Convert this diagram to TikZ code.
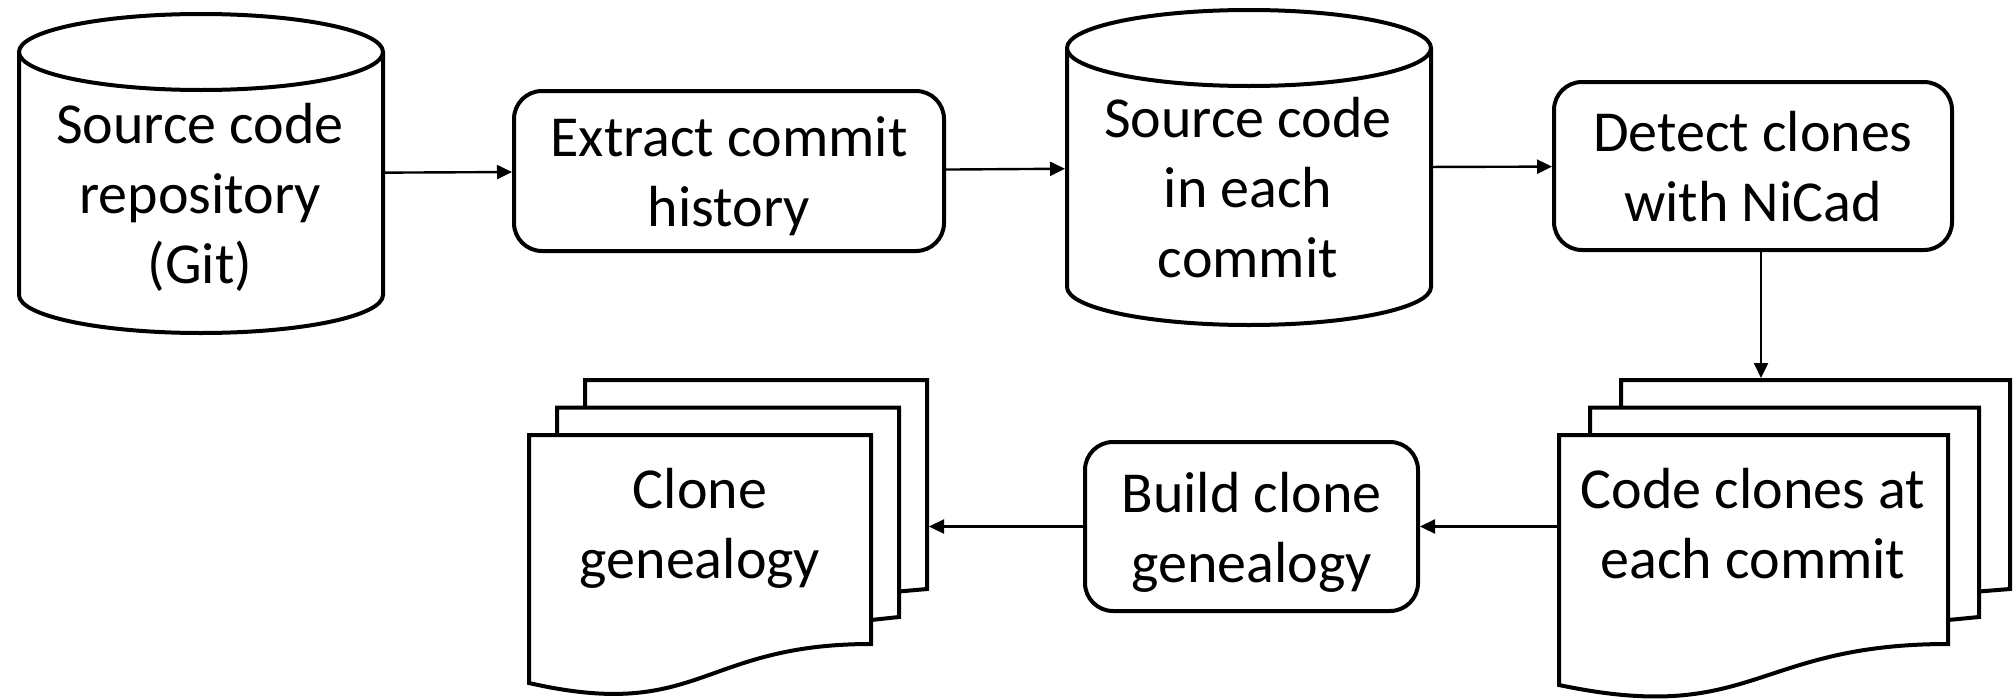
\documentclass[tikz,border=0pt]{standalone}
\usepackage{fontspec}
\setmainfont{Carlito}
\usetikzlibrary{arrows.meta}

% every text line gets the same ascent/descent, so blocks centre like the slide text boxes
\newcommand\linestrut{\rule[-14.5pt]{0pt}{70pt}}

% database drum: centre x, top of lid, lowest point, half width
\newcommand\drum[4]{%
  \draw[outline] ({#1-#4},{#2+38}) -- ({#1-#4},{#3-38})
    arc[start angle=180,end angle=360,x radius=#4pt,y radius=38pt]
    -- ({#1+#4},{#2+38});
  \draw[outline] (#1,{#2+38}) ellipse[x radius=#4pt,y radius=38pt];}

% front sheet of a document stack: left, right, top, bottom-right y, bottom-left y
\newcommand\leaf[5]{%
  \draw[outline] (#1,#3) -- (#2,#3) -- (#2,#4)
    .. controls ({(#1+#2)/2},#4) and ({(#1+#2)/2},{2*#5-#4}) .. (#1,#5) -- cycle;}

\begin{document}
\begin{tikzpicture}[x=1pt, y=-1pt,
  outline/.style={draw=black, line width=4pt, fill=white},
  sheetline/.style={draw=black, line width=4pt},
  txt/.style={align=center, inner sep=0pt, font=\fontsize{58}{70}\selectfont},
  procbox/.style={txt, draw=black, line width=4pt, rounded corners=28pt, fill=white},
  hull/.style={rectangle, inner sep=0pt, outer sep=2pt},
  conn/.style={line width=2.4pt, -{Triangle[length=15pt,width=14pt]}}]

\path[fill=white] (0,0) rectangle (2013,699);
\useasboundingbox (0,0) rectangle (2013,699);

% --- top row ---
\drum{201}{14}{333}{182}
\node[hull, minimum width=364pt, minimum height=319pt] (repo) at (201,173.5) {};
\node[txt] (repo-label) at (200,192.5)
  {\linestrut Source code\\\linestrut repository\\\linestrut (Git)};

\node[procbox, minimum width=430pt, minimum height=160pt] (extract) at (729,171)
  {\linestrut Extract commit\\\linestrut history};

\drum{1249}{10}{325}{182}
\node[hull, minimum width=364pt, minimum height=315pt] (snapshots) at (1249,167.5) {};
\node[txt] (snapshots-label) at (1248,186.5)
  {\linestrut Source code\\\linestrut in each\\\linestrut commit};

\node[procbox, minimum width=398pt, minimum height=168pt] (detect) at (1753,166)
  {\linestrut Detect clones\\\linestrut with NiCad};

% --- bottom row: clone reports per commit ---
\draw[sheetline] (1590,435) -- (1590,407.5) -- (1979,407.5) -- (1979,617) -- (1948,620);
\draw[sheetline] (1621,407.5) -- (1621,380) -- (2010,380) -- (2010,589) -- (1979,591.5);
\leaf{1559}{1948}{435}{644}{685}
\node[hull, minimum width=389pt, minimum height=250pt] (clones) at (1753.5,560) {};
\node[txt] (clones-label) at (1753,522.5)
  {\linestrut Code clones at\\\linestrut each commit};
\coordinate (clones-in) at (1761,378);

\node[procbox, minimum width=333pt, minimum height=169pt] (build) at (1251.5,526.5)
  {\linestrut Build clone\\\linestrut genealogy};

% --- genealogy output ---
\draw[sheetline] (557,435) -- (557,407.5) -- (899,407.5) -- (899,617) -- (871,620);
\draw[sheetline] (585,407.5) -- (585,380) -- (927,380) -- (927,589) -- (899,591.5);
\leaf{529}{871}{435}{644}{683}
\node[hull, minimum width=398pt, minimum height=303pt] (genealogy) at (728,531.5) {};
\node[txt] (genealogy-label) at (700,523)
  {\linestrut Clone\\\linestrut genealogy};

% --- flow ---
\draw[conn] (repo) -- (extract);
\draw[conn] (extract) -- (snapshots);
\draw[conn] (snapshots) -- (detect);
\draw[conn] (detect.south -| clones-in) -- (clones-in);
\draw[conn] (clones.west |- build.east) -- (build.east);
\draw[conn] (build.west) -- (genealogy.east |- build.west);

\end{tikzpicture}
\end{document}
